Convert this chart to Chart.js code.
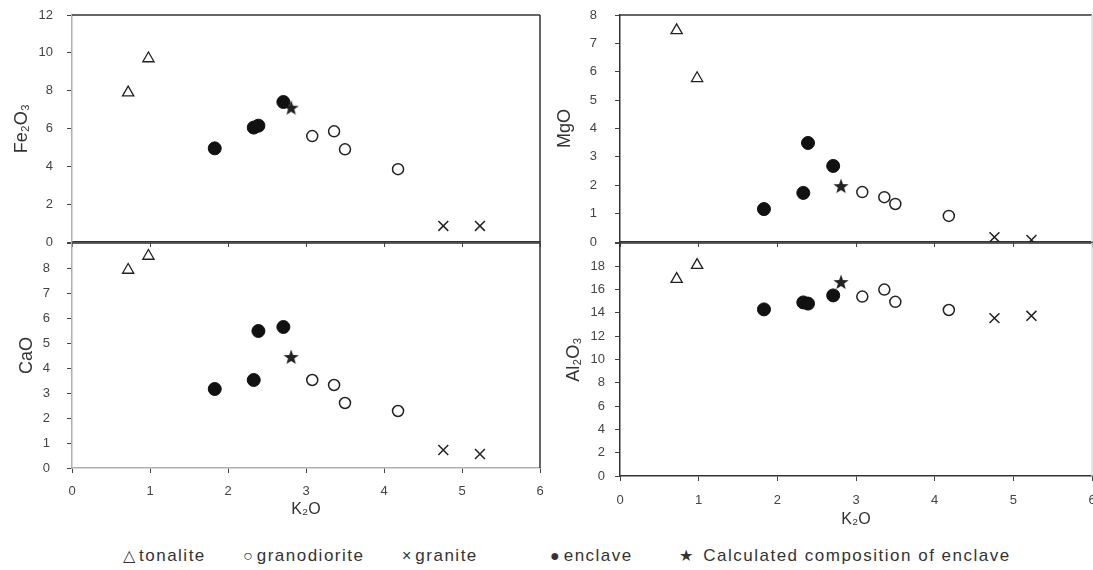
<!DOCTYPE html>
<html lang="en">
<head>
<meta charset="UTF-8">
<title>K2O variation diagrams</title>
<script src="https://cdn.jsdelivr.net/npm/chart.js"></script>
<style>
  body { margin:0; background:#fff; width:1093px; height:570px; position:relative; overflow:hidden;
         font-family:"Liberation Sans", Arial, sans-serif; }
  canvas { position:absolute; }
  .legend { position:absolute; top:546px; font-size:17px; line-height:20px; letter-spacing:1.5px;
            color:#333; white-space:nowrap; }
  .mark { font-size:16px; letter-spacing:0; margin-right:4px; }
</style>
</head>
<body>
<canvas id="fe" width="545" height="255" style="left:0;top:0"></canvas>
<canvas id="ca" width="545" height="285" style="left:0;top:238px"></canvas>
<canvas id="mg" width="548" height="255" style="left:545px;top:0"></canvas>
<canvas id="al" width="548" height="295" style="left:545px;top:238px"></canvas>

<div class="legend" style="left:123px"><span class="mark">△</span>tonalite</div>
<div class="legend" style="left:243px"><span class="mark">○</span>granodiorite</div>
<div class="legend" style="left:402px"><span class="mark">×</span>granite</div>
<div class="legend" style="left:550px"><span class="mark">●</span>enclave</div>
<div class="legend" style="left:679px"><span class="mark">★</span> Calculated composition of enclave</div>

<script>
// K2O (x) for every sample group
const tonaliteK2O = [0.72, 0.98];
const granodioriteK2O = [3.08, 3.36, 3.5, 4.18];
const graniteK2O = [4.76, 5.23];
const enclaveK2O = [1.83, 2.33, 2.39, 2.71];
const calcK2O = [2.81];

// Fe2O3
const tonaliteFe2O3 = [7.9, 9.7];
const granodioriteFe2O3 = [5.6, 5.85, 4.9, 3.85];
const graniteFe2O3 = [0.85, 0.85];
const enclaveFe2O3 = [4.95, 6.05, 6.15, 7.4];
const calcFe2O3 = [7.1];

// CaO
const tonaliteCaO = [7.92, 8.48];
const granodioriteCaO = [3.52, 3.32, 2.6, 2.28];
const graniteCaO = [0.72, 0.56];
const enclaveCaO = [3.16, 3.52, 5.48, 5.64];
const calcCaO = [4.44];

// MgO
const tonaliteMgO = [7.46, 5.77];
const granodioriteMgO = [1.76, 1.58, 1.34, 0.92];
const graniteMgO = [0.17, 0.07];
const enclaveMgO = [1.16, 1.73, 3.49, 2.68];
const calcMgO = [1.97];

// Al2O3
const tonaliteAl2O3 = [16.9, 18.1];
const granodioriteAl2O3 = [15.4, 16.0, 14.95, 14.25];
const graniteAl2O3 = [13.55, 13.75];
const enclaveAl2O3 = [14.3, 14.9, 14.8, 15.5];
const calcAl2O3 = [16.65];

Chart.defaults.font.family = "'Liberation Sans', Arial, sans-serif";

// filled star marker
const star = document.createElement('canvas');
star.width = 16; star.height = 16;
const sc = star.getContext('2d');
sc.beginPath();
for (let i = 0; i < 10; i++) {
  const r = i % 2 ? 3.3 : 8;
  const a = -Math.PI / 2 + i * Math.PI / 5;
  sc.lineTo(8 + r * Math.cos(a), 8.6 + r * Math.sin(a));
}
sc.closePath();
sc.fillStyle = '#222';
sc.fill();

function pts(xs, ys) {
  return xs.map((x, i) => ({ x: x, y: ys[i] }));
}

// fixed axis size, no extra label padding
function fixSize(s, w, h) {
  if (w != null) s.width = w;
  if (h != null) s.height = h;
  s.paddingTop = s.paddingBottom = s.paddingLeft = s.paddingRight = 0;
}

// top and right edges of the plot box
const frame = {
  id: 'frame',
  afterDatasetsDraw(chart, args, o) {
    const { ctx, chartArea: a } = chart;
    ctx.save();
    ctx.lineWidth = 1.5;
    ctx.strokeStyle = o.top || '#333';
    ctx.beginPath();
    ctx.moveTo(a.left, a.top);
    ctx.lineTo(a.right, a.top);
    ctx.stroke();
    ctx.strokeStyle = o.right || '#333';
    ctx.beginPath();
    ctx.moveTo(a.right, a.top);
    ctx.lineTo(a.right, a.bottom);
    ctx.stroke();
    ctx.restore();
  }
};

function makeChart(id, o, ys) {
  const ink = '#222';
  new Chart(document.getElementById(id), {
    type: 'scatter',
    data: {
      datasets: [
        { label: 'tonalite', data: pts(tonaliteK2O, ys[0]), pointStyle: 'triangle', pointRadius: 6.5,
          backgroundColor: '#fff', borderColor: ink, borderWidth: 1.3 },
        { label: 'granodiorite', data: pts(granodioriteK2O, ys[1]), pointStyle: 'circle', pointRadius: 5.5,
          backgroundColor: '#fff', borderColor: ink, borderWidth: 1.5 },
        { label: 'granite', data: pts(graniteK2O, ys[2]), pointStyle: 'crossRot', pointRadius: 7,
          borderColor: ink, borderWidth: 1.5 },
        { label: 'enclave', data: pts(enclaveK2O, ys[3]), pointStyle: 'circle', pointRadius: 6.5,
          backgroundColor: '#111', borderColor: '#111', borderWidth: 1 },
        { label: 'Calculated composition of enclave', data: pts(calcK2O, ys[4]), pointStyle: star }
      ]
    },
    options: {
      responsive: false,
      animation: false,
      layout: { autoPadding: false, padding: { top: o.padTop, right: o.padRight, left: 0, bottom: 0 } },
      plugins: {
        legend: { display: false },
        tooltip: { enabled: false },
        frame: { top: '#333', right: o.rightColor }
      },
      scales: {
        x: {
          type: 'linear', min: 0, max: 6,
          afterFit: s => fixSize(s, null, o.xH),
          border: { color: o.bottomColor, width: 1.5 },
          grid: { drawOnChartArea: false, tickLength: 5, color: '#444' },
          ticks: { display: o.showX, stepSize: 1, padding: o.xTickPad, font: { size: 13 }, color: '#444' },
          title: { display: o.showX, text: 'K₂O', font: { size: 16 }, color: '#333', padding: { top: 0, bottom: 4 } }
        },
        y: {
          min: o.yMin, max: o.yMax,
          afterFit: s => fixSize(s, o.yW, null),
          border: { color: o.leftColor, width: 1.5 },
          grid: { drawOnChartArea: false, tickLength: 5, color: '#444' },
          ticks: {
            stepSize: o.yStep, padding: o.yTickPad, font: { size: 13 }, color: '#444',
            callback: v => (o.hideTop && v === o.yMax) ? '' : v
          },
          title: { display: true, text: o.yTitle, font: { size: 18 }, color: '#333',
                   padding: { top: o.yTitlePad, bottom: 0 } }
        }
      }
    },
    plugins: [frame]
  });
}

makeChart('fe', {
  yTitle: 'Fe₂O₃', yMin: 0, yMax: 12, yStep: 2, showX: false, hideTop: false,
  padTop: 15, padRight: 5, yW: 72, xH: 13, yTitlePad: 11, yTickPad: 14, xTickPad: 10,
  leftColor: '#b0b0b0', bottomColor: '#333', rightColor: '#333'
}, [tonaliteFe2O3, granodioriteFe2O3, graniteFe2O3, enclaveFe2O3, calcFe2O3]);

makeChart('ca', {
  yTitle: 'CaO', yMin: 0, yMax: 9, yStep: 1, showX: true, hideTop: true,
  padTop: 5, padRight: 5, yW: 72, xH: 55, yTitlePad: 16, yTickPad: 17, xTickPad: 11,
  leftColor: '#b0b0b0', bottomColor: '#b0b0b0', rightColor: '#333'
}, [tonaliteCaO, granodioriteCaO, graniteCaO, enclaveCaO, calcCaO]);

makeChart('mg', {
  yTitle: 'MgO', yMin: 0, yMax: 8, yStep: 1, showX: false, hideTop: false,
  padTop: 15, padRight: 1, yW: 75, xH: 13, yTitlePad: 9, yTickPad: 18, xTickPad: 10,
  leftColor: '#333', bottomColor: '#333', rightColor: '#ddd'
}, [tonaliteMgO, granodioriteMgO, graniteMgO, enclaveMgO, calcMgO]);

makeChart('al', {
  yTitle: 'Al₂O₃', yMin: 0, yMax: 20, yStep: 2, showX: true, hideTop: true,
  padTop: 5, padRight: 1, yW: 75, xH: 57, yTitlePad: 18, yTickPad: 10, xTickPad: 12,
  leftColor: '#333', bottomColor: '#333', rightColor: '#ddd'
}, [tonaliteAl2O3, granodioriteAl2O3, graniteAl2O3, enclaveAl2O3, calcAl2O3]);
</script>
</body>
</html>
